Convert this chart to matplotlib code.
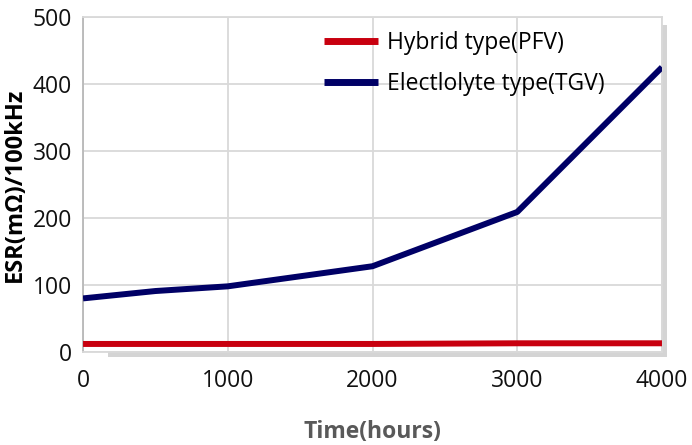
import matplotlib.pyplot as plt
from matplotlib.patches import Rectangle

plt.rcParams['font.family'] = ['Open Sans', 'DejaVu Sans']

# test hours and ESR values
hours = [0, 500, 1000, 2000, 3000, 4000]
hybrid_esr = [12, 12, 12, 12, 13, 13]
electrolyte_esr = [80, 91, 98, 128, 209, 425]

x_ticks = [0, 1000, 2000, 3000, 4000]
y_ticks = [0, 100, 200, 300, 400, 500]

fig = plt.figure(figsize=(6.92, 4.45), dpi=100)
ax = fig.add_axes([0.12, 0.209, 0.8366, 0.7528])
ax.set_zorder(2)

# soft drop shadow behind the plot area
shadow = Rectangle((108 / 692, 1 - 357 / 445), (667 - 108) / 692, (357 - 25) / 445,
                   transform=fig.transFigure, facecolor='#d4d4d4', edgecolor='none', zorder=-1)
fig.patches.append(shadow)
ax.set_facecolor('white')

ax.plot(hours, hybrid_esr, color='#c8000f', lw=4.3, label='Hybrid type(PFV)', solid_capstyle='butt', zorder=3)
ax.plot(hours, electrolyte_esr, color='#000066', lw=4.3, label='Electlolyte type(TGV)', solid_capstyle='butt', zorder=3)

ax.set_xlim(0, 4000)
ax.set_ylim(0, 500)
ax.set_xticks(x_ticks)
ax.set_yticks(y_ticks)
ax.tick_params(length=0, labelsize=16.5, colors='#111111')
ax.tick_params(axis='x', pad=12)
ax.tick_params(axis='y', pad=8)
ax.grid(True, color='#d9d9d9', lw=1.3)
ax.set_axisbelow(True)
for side in ['top', 'right', 'bottom']:
    ax.spines[side].set_color('#d9d9d9')
    ax.spines[side].set_linewidth(1.3)
ax.spines['left'].set_color('#b8b8b8')
ax.spines['left'].set_linewidth(1.3)

ax.set_ylabel('ESR(mΩ)/100kHz', fontsize=17, fontweight='bold', labelpad=4)
ax.set_xlabel('Time(hours)', fontsize=16.5, fontweight='bold', color='#595959', labelpad=20)

leg = ax.legend(loc='upper left', bbox_to_anchor=(0.4, 0.986), frameon=False, fontsize=16.5,
                handlelength=2.36, handletextpad=0.4, labelspacing=0.75, borderaxespad=0)
for line in leg.get_lines():
    line.set_linewidth(5)

fig.savefig('out.png', dpi=100)
